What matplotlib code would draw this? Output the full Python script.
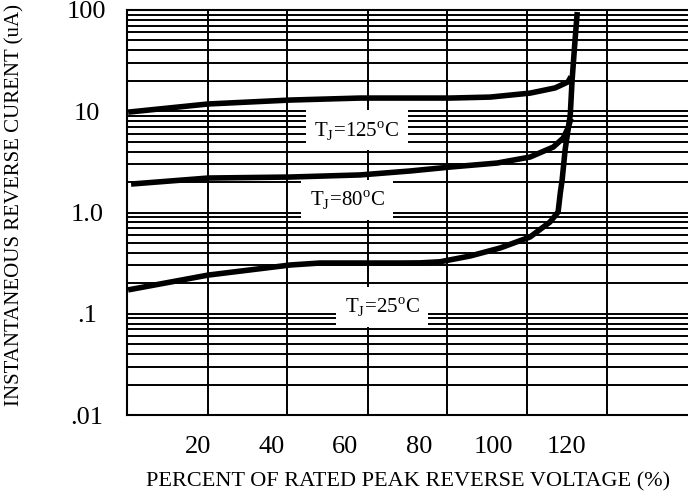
import numpy as np
import matplotlib
matplotlib.use('Agg')
import matplotlib.pyplot as plt
from matplotlib.ticker import FixedLocator, LogLocator, NullFormatter

plt.rcParams['font.family'] = ['Liberation Serif', 'DejaVu Serif']
plt.rcParams['mathtext.fontset'] = 'custom'
plt.rcParams['mathtext.rm'] = 'Liberation Serif'

# percent of rated peak reverse voltage (%) vs reverse current (uA)
pct_125 = [1.1, 22.8, 45.0, 64.0, 88.3, 99.2, 110.0, 116.8, 120.3, 121.1]
ir_125 = [9.8, 11.8, 12.9, 13.5, 13.5, 13.8, 15.1, 17.0, 19.5, 22.0]

pct_80 = [1.9, 22.8, 45.0, 64.0, 77.5, 88.3, 101.1, 110.0, 116.3, 119.0, 120.3, 121.1]
ir_80 = [1.91, 2.19, 2.24, 2.35, 2.57, 2.81, 3.08, 3.53, 4.43, 5.44, 6.84, 8.5]

pct_25 = [1.1, 22.8, 45.0, 53.1, 74.8, 80.2, 85.6, 93.8, 101.9, 110.0, 115.4, 117.6,
          118.2, 118.7, 119.5, 120.9, 121.4, 122.2, 122.8]
ir_25 = [0.172, 0.241, 0.303, 0.317, 0.317, 0.318, 0.326, 0.372, 0.446, 0.573, 0.805, 1.01,
         1.56, 2.1, 4.14, 9.2, 20.4, 50.6, 95.5]

x_ticks = [20, 40, 60, 80, 100, 120]
x_grid = [22.8, 44.2, 66.1, 87.5, 109.2, 130.9]
y_ticks = [0.01, 0.1, 1, 10, 100]
y_labels = ['.01', '.1', '1.0', '10', '100']

labels = ['T$_\\mathregular{J}$=125$^\\mathregular{o}$C',
          'T$_\\mathregular{J}$=80$^\\mathregular{o}$C',
          'T$_\\mathregular{J}$=25$^\\mathregular{o}$C']
label_pos = [(63.1, 6.5), (60.4, 1.33), (69.9, 0.117)]

fig = plt.figure(figsize=(6.88, 4.97), dpi=100)
ax = fig.add_axes([127 / 688, 82 / 497, 561 / 688, 405 / 497])

ax.set_yscale('log')
ax.set_xlim(0.8, 152.8)
ax.set_ylim(0.01, 100)

ax.yaxis.set_major_locator(FixedLocator(y_ticks))
ax.set_yticklabels(y_labels)
ax.yaxis.set_minor_locator(LogLocator(base=10, subs=np.arange(2, 10)))
ax.yaxis.set_minor_formatter(NullFormatter())

ax.xaxis.set_major_locator(FixedLocator(x_ticks))
ax.set_xticklabels([str(t) for t in x_ticks])
ax.xaxis.set_minor_locator(FixedLocator(x_grid))

ax.grid(True, which='both', axis='y', color='black', linewidth=1.4)
ax.grid(True, which='minor', axis='x', color='black', linewidth=1.4)
ax.tick_params(which='both', length=0)
ax.tick_params(axis='y', labelsize=19, pad=29)
ax.tick_params(axis='x', labelsize=19, pad=15)
for lab in ax.get_yticklabels():
    lab.set_horizontalalignment('center')

for s in ['left', 'top', 'bottom']:
    ax.spines[s].set_linewidth(1.5)
ax.spines['right'].set_visible(False)

for x, y in [(pct_125, ir_125), (pct_80, ir_80), (pct_25, ir_25)]:
    ax.plot(x, y, color='black', linewidth=4.0, solid_joinstyle='round',
            solid_capstyle='butt', zorder=3)

for lab, (x, y) in zip(labels, label_pos):
    ax.text(x, y, lab, fontsize=15, ha='center', va='center', zorder=4,
            bbox=dict(boxstyle='square,pad=0.4', facecolor='white', edgecolor='none'))

ax.set_xlabel('PERCENT OF RATED PEAK REVERSE VOLTAGE (%)', fontsize=16)
ax.set_ylabel('INSTANTANEOUS REVERSE CURENT (uA)', fontsize=15)
ax.xaxis.label.set_verticalalignment('center')
ax.yaxis.label.set_verticalalignment('center')
ax.xaxis.set_label_coords(0.501, -0.165)
ax.yaxis.set_label_coords(-0.2005, 0.5185)

fig.savefig('out.png', dpi=100)
